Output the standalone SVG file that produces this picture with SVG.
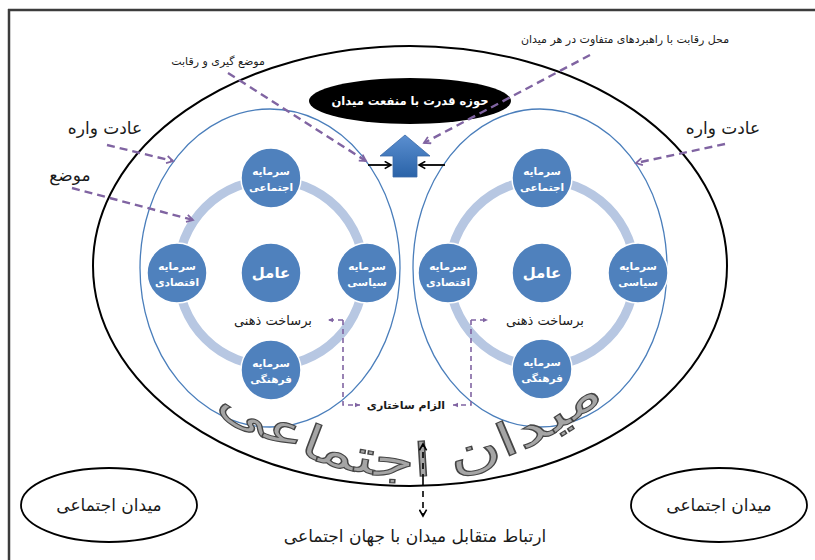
<svg xmlns="http://www.w3.org/2000/svg" width="815" height="560" viewBox="0 0 815 560">
<style>
  text { font-family: "DejaVu Sans", "Noto Sans", sans-serif; }
  .node { fill: #4f81bd; stroke: #ffffff; stroke-width: 1.5; }
  .nlab { fill: #ffffff; font-size: 10.5px; font-weight: bold; text-anchor: middle; }
  .core { fill: #ffffff; font-size: 15px; font-weight: bold; text-anchor: middle; }
  .ring { fill: none; stroke: #b7c7e2; stroke-width: 9; }
  .field { fill: none; stroke: #4a7ebb; stroke-width: 1.3; }
  .dash { fill: none; stroke: #8064a2; stroke-width: 2.4; stroke-dasharray: 8 5; }
  .dashs { fill: none; stroke: #8064a2; stroke-width: 1.6; stroke-dasharray: 5 4; }
  .lbl { fill: #1a1a1a; text-anchor: middle; }
  .wm { font-size: 46px; fill: #a5a5a5; stroke: #454545; stroke-width: 1.1; }
</style>
<defs>
  <marker id="pa" viewBox="0 0 10 10" refX="8" refY="5" markerWidth="9" markerHeight="9" markerUnits="userSpaceOnUse" orient="auto">
    <path d="M1,1 L8,5 L1,9" fill="none" stroke="#8064a2" stroke-width="2"/>
  </marker>
  <marker id="pas" viewBox="0 0 10 10" refX="9" refY="5" markerWidth="6" markerHeight="6" markerUnits="userSpaceOnUse" orient="auto">
    <path d="M0,1 L9,5 L0,9 Z" fill="#8064a2"/>
  </marker>
  <marker id="ba" viewBox="0 0 10 10" refX="8" refY="5" markerWidth="9" markerHeight="9" markerUnits="userSpaceOnUse" orient="auto">
    <path d="M1,1 L8,5 L1,9" fill="none" stroke="#000" stroke-width="1.8"/>
  </marker>
  <linearGradient id="bg" x1="0" y1="0" x2="0" y2="1">
    <stop offset="0" stop-color="#5b8fd0"/>
    <stop offset="1" stop-color="#2a63a8"/>
  </linearGradient>
  <path id="arc" d="M 200,395 Q 420,565 625,380"/>
</defs>

<g id="frame" fill="none" stroke="#3c3c3c" stroke-width="2.5">
  <line x1="8" y1="10" x2="815" y2="10"/>
  <line x1="9" y1="9" x2="9" y2="560"/>
</g>

<g id="social-field">
  <ellipse cx="410" cy="266" rx="317" ry="220" fill="none" stroke="#000" stroke-width="2"/>
</g>

<g id="power-zone">
  <ellipse cx="410" cy="101" rx="101" ry="23" fill="#000"/>
  <text x="410" y="105" fill="#fff" font-size="11.5" font-weight="bold" text-anchor="middle">حوزه قدرت با منفعت میدان</text>
</g>

<g id="up-arrow">
  <polygon points="405,135 430,156 417,156 417,177 393,177 393,156 380,156" fill="url(#bg)" stroke="#3a6aa8" stroke-width="0.8"/>
</g>

<g id="field-left">
  <ellipse class="field" cx="270" cy="268" rx="130" ry="159"/>
  <circle class="ring" cx="271" cy="273" r="93"/>
  <g id="left-social"><circle class="node" cx="271" cy="178" r="30"/><text class="nlab" x="271" y="175">سرمایه</text><text class="nlab" x="271" y="191">اجتماعی</text></g>
  <g id="left-economic"><circle class="node" cx="177" cy="273" r="30"/><text class="nlab" x="177" y="270">سرمایه</text><text class="nlab" x="177" y="286">اقتصادی</text></g>
  <g id="left-agent"><circle class="node" cx="271" cy="273" r="30"/><text class="core" x="271" y="278">عامل</text></g>
  <g id="left-political"><circle class="node" cx="367" cy="273" r="30"/><text class="nlab" x="367" y="270">سرمایه</text><text class="nlab" x="367" y="286">سیاسی</text></g>
  <g id="left-cultural"><circle class="node" cx="271" cy="370" r="30"/><text class="nlab" x="271" y="367">سرمایه</text><text class="nlab" x="271" y="383">فرهنگی</text></g>
  <text class="lbl" x="273" y="325" font-size="13">برساخت ذهنی</text>
</g>

<g id="field-right">
  <ellipse class="field" cx="540" cy="268" rx="127" ry="159"/>
  <circle class="ring" cx="542" cy="273" r="93"/>
  <g id="right-social"><circle class="node" cx="542" cy="178" r="30"/><text class="nlab" x="542" y="175">سرمایه</text><text class="nlab" x="542" y="191">اجتماعی</text></g>
  <g id="right-economic"><circle class="node" cx="448" cy="273" r="30"/><text class="nlab" x="448" y="270">سرمایه</text><text class="nlab" x="448" y="286">اقتصادی</text></g>
  <g id="right-agent"><circle class="node" cx="542" cy="273" r="30"/><text class="core" x="542" y="278">عامل</text></g>
  <g id="right-political"><circle class="node" cx="638" cy="273" r="30"/><text class="nlab" x="638" y="270">سرمایه</text><text class="nlab" x="638" y="286">سیاسی</text></g>
  <g id="right-cultural"><circle class="node" cx="542" cy="369" r="30"/><text class="nlab" x="542" y="366">سرمایه</text><text class="nlab" x="542" y="382">فرهنگی</text></g>
  <text class="lbl" x="545" y="325" font-size="13">برساخت ذهنی</text>
</g>

<g id="watermark">
  <text class="wm"><textPath href="#arc" startOffset="20" textLength="232" lengthAdjust="spacingAndGlyphs">اجتماعی</textPath></text>
  <text class="wm"><textPath href="#arc" startOffset="272" textLength="172" lengthAdjust="spacingAndGlyphs">میدان</textPath></text>
</g>

<g id="world-left">
  <ellipse cx="109" cy="505" rx="88" ry="37" fill="none" stroke="#000" stroke-width="1.8"/>
  <text class="lbl" x="109" y="511" font-size="17">میدان اجتماعی</text>
</g>
<g id="world-right">
  <ellipse cx="719" cy="505" rx="88" ry="37" fill="none" stroke="#000" stroke-width="1.8"/>
  <text class="lbl" x="719" y="511" font-size="17">میدان اجتماعی</text>
</g>

<g id="labels">
  <text class="lbl" x="218" y="65" font-size="11">موضع گیری و رقابت</text>
  <text class="lbl" x="625" y="43" font-size="11">محل رقابت با راهبردهای متفاوت در هر میدان</text>
  <text class="lbl" x="105" y="134" font-size="17">عادت واره</text>
  <text class="lbl" x="70" y="181" font-size="17">موضع</text>
  <text class="lbl" x="723" y="134" font-size="17">عادت واره</text>
  <text class="lbl" x="406" y="409" font-size="11" font-weight="bold">الزام ساختاری</text>
  <text class="lbl" x="415" y="542" font-size="17">ارتباط متقابل میدان با جهان اجتماعی</text>
</g>

<g id="connectors">
  <line x1="228" y1="73" x2="366" y2="161" class="dash" marker-end="url(#pa)"/>
  <line x1="590" y1="55" x2="424" y2="143" class="dash" marker-end="url(#pa)"/>
  <line x1="107" y1="145" x2="173" y2="161" class="dash" marker-end="url(#pa)"/>
  <line x1="72" y1="188" x2="193" y2="220" class="dash" marker-end="url(#pa)"/>
  <line x1="725" y1="144" x2="636" y2="163" class="dash" marker-end="url(#pa)"/>
  <line x1="368" y1="165" x2="391" y2="165" stroke="#000" stroke-width="1.8" marker-end="url(#ba)"/>
  <line x1="445" y1="165" x2="419" y2="165" stroke="#000" stroke-width="1.8" marker-end="url(#ba)"/>
  <line x1="343" y1="320" x2="328" y2="320" class="dashs" marker-end="url(#pas)"/>
  <polyline points="343,320 343,405 360,405" class="dashs" marker-end="url(#pas)"/>
  <line x1="471" y1="320" x2="488" y2="320" class="dashs" marker-end="url(#pas)"/>
  <polyline points="471,320 471,405 453,405" class="dashs" marker-end="url(#pas)"/>
  <line x1="423" y1="480" x2="423" y2="444" stroke="#000" stroke-width="1.6" stroke-dasharray="6 5" marker-end="url(#ba)"/>
  <line x1="423" y1="480" x2="423" y2="516" stroke="#000" stroke-width="1.6" stroke-dasharray="6 5" marker-end="url(#ba)"/>
</g>
</svg>
